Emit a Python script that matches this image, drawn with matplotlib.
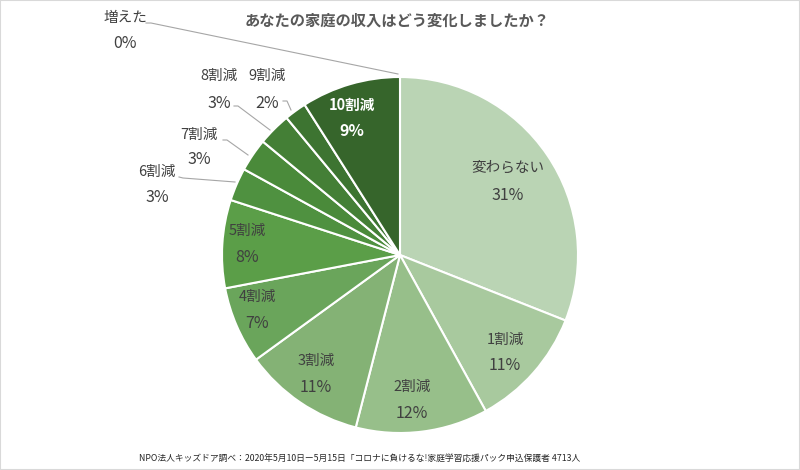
import matplotlib
matplotlib.use("Agg")
import matplotlib.pyplot as plt
from matplotlib.patches import Rectangle

plt.rcParams['font.family'] = ['Noto Sans CJK JP', 'DejaVu Sans']

# ---- data ----
categories = ["増えた", "変わらない", "1割減", "2割減", "3割減", "4割減", "5割減",
              "6割減", "7割減", "8割減", "9割減", "10割減"]
values = [0, 31, 11, 12, 11, 7, 8, 3, 3, 3, 2, 9]
pct_labels = ["0%", "31%", "11%", "12%", "11%", "7%", "8%", "3%", "3%", "3%", "2%", "9%"]
title = "あなたの家庭の収入はどう変化しましたか？"
footer = "NPO法人キッズドア調べ：2020年5月10日ー5月15日「コロナに負けるな!家庭学習応援パック申込保護者 4713人"

# ---- style ----
colors = ["#c8dcc2", "#bad4b4", "#a8c99e", "#97bf8a", "#84b275", "#6aa55b", "#5b9e48",
          "#4f9140", "#4a8a3a", "#447f36", "#3d7431", "#36652b"]
W, H = 800, 470
cx, cy, R = 400, 255, 178

# label centers (pixel coords, y downwards): (x, y_name, y_pct)
label_pos = [(125, 18, 43), (508, 168, 195), (505, 340, 366), (412, 387, 413),
             (316, 361, 387), (257, 297, 323), (247, 231, 257), (157, 172, 198),
             (199, 135, 160), (219, 76, 103), (267, 76, 103), (352, 105, 131)]
# leader lines for outside labels (pixel coords)
leaders = {0: [(146, 23), (151, 23), (398, 74)],
           7: [(179, 177), (183, 178), (235, 182)],
           8: [(223, 140), (227, 140), (248, 155)],
           9: [(234, 106), (238, 106), (270, 130)],
           10: [(283, 101), (287, 101), (291, 110)]}

fig = plt.figure(figsize=(8, 4.7), dpi=100)
ax = fig.add_axes([0, 0, 1, 1])

def Y(y):
    return H - y

ax.pie(values, colors=colors, startangle=90, counterclock=False,
       center=(cx, Y(cy)), radius=R,
       wedgeprops=dict(edgecolor="white", linewidth=1.5))
ax.set_xlim(0, W)
ax.set_ylim(0, H)
ax.set_aspect('equal')
ax.axis('off')

txt = "#404040"
for i, (name, pct) in enumerate(zip(categories, pct_labels)):
    x, y1, y2 = label_pos[i]
    if i == len(categories) - 1:
        kw = dict(color="white", fontweight="bold")
    else:
        kw = dict(color=txt)
    ax.text(x, Y(y1), name, ha="center", va="center", fontsize=10.5, **kw)
    ax.text(x, Y(y2), pct, ha="center", va="center", fontsize=11.5, **kw)

for i, pts in leaders.items():
    xs = [p[0] for p in pts]
    ys = [Y(p[1]) for p in pts]
    ax.plot(xs, ys, color="#a6a6a6", linewidth=0.8)

ax.text(397, Y(21), title, ha="center", va="center", fontsize=11,
        fontweight="bold", color="#595959")
ax.text(360, Y(458), footer, ha="center", va="center", fontsize=6.3, color="#262626")

fig.patches.append(Rectangle((0, 0), 1, 1, transform=fig.transFigure, fill=False,
                             edgecolor="#d9d9d9", linewidth=1.5))

fig.savefig("out.png", dpi=100)
